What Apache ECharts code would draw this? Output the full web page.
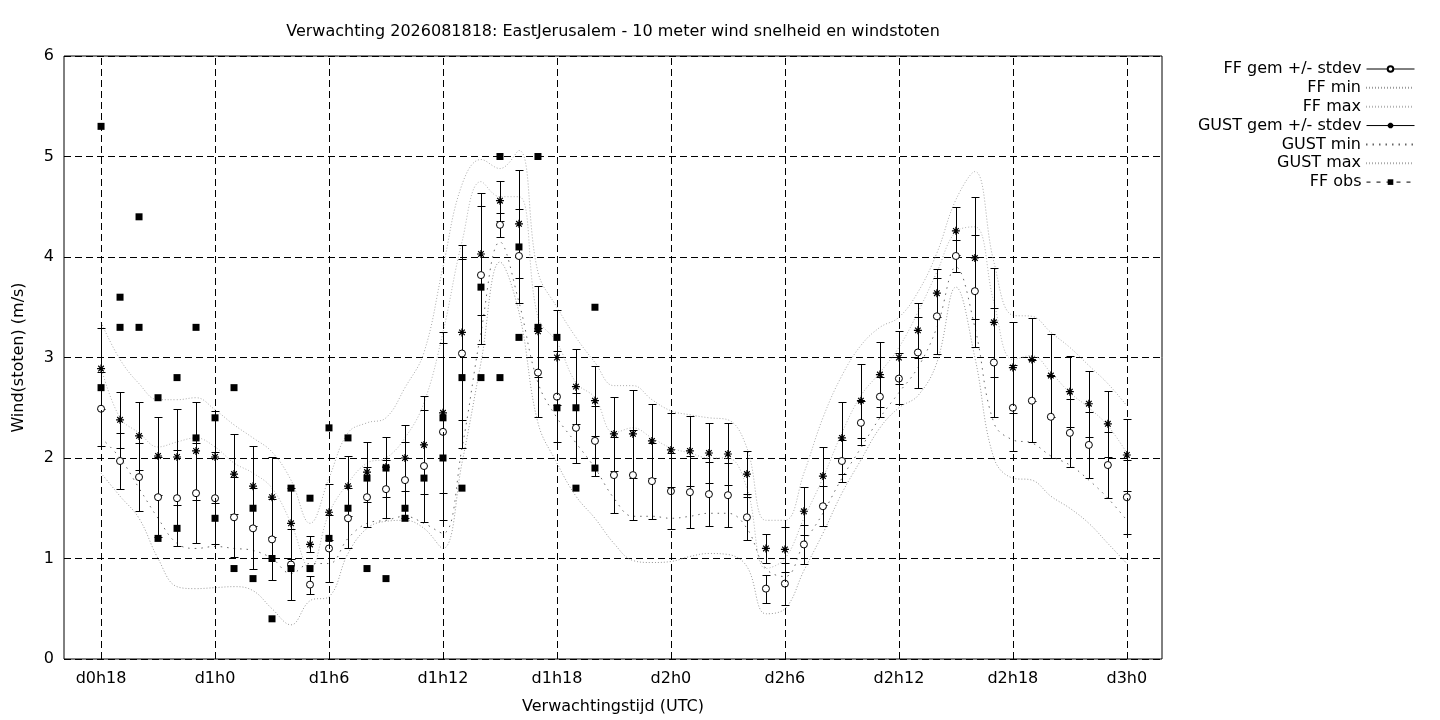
<!DOCTYPE html>
<html>
<head>
<meta charset="utf-8">
<title>Verwachting EastJerusalem wind</title>
<script src="https://cdn.jsdelivr.net/npm/echarts@6/dist/echarts.min.js"></script>
<style>
html, body { margin: 0; padding: 0; background: #fff; }
#chart { width: 1440px; height: 720px; }
</style>
</head>
<body>
<div id="chart"></div>
<script>
// forecast hour counted from d0h0
const hours = [18,19,20,21,22,23,24,25,26,27,28,29,30,31,32,33,34,35,36,37,38,39,40,41,42,43,44,45,
  46,47,48,49,50,51,52,53,54,55,56,57,58,59,60,61,62,63,64,65,66,67,68,69,70,71,72];
const tickHours = [18,24,30,36,42,48,54,60,66,72];

const ffMean = [2.49,1.97,1.81,1.61,1.60,1.65,1.60,1.41,1.30,1.19,
  0.94,0.74,1.10,1.40,1.61,1.69,1.78,1.92,2.26,3.04,
  3.82,4.32,4.01,2.85,2.61,2.30,2.17,1.83,1.83,1.77,
  1.67,1.66,1.64,1.63,1.41,0.70,0.75,1.14,1.52,1.97,
  2.35,2.61,2.79,3.05,3.41,4.01,3.66,2.95,2.50,2.57,
  2.41,2.25,2.13,1.93,1.61];
const ffSd = [0.37,0.28,0.34,0.40,0.48,0.50,0.46,0.40,0.40,0.40,
  0.35,0.09,0.33,0.30,0.30,0.29,0.38,0.56,0.88,0.94,
  0.69,0.12,0.47,0.44,0.45,0.35,0.35,0.38,0.45,0.38,
  0.38,0.36,0.32,0.32,0.23,0.14,0.21,0.19,0.20,0.21,
  0.22,0.20,0.25,0.35,0.38,0.16,0.56,0.54,0.43,0.41,
  0.41,0.34,0.33,0.33,0.37];
const ffMin = [1.85,1.62,1.40,1.00,0.72,0.70,0.71,0.72,0.68,0.50,
  0.34,0.58,0.62,1.05,1.30,1.37,1.38,1.30,1.10,1.95,
  2.95,3.95,3.45,2.35,1.95,1.62,1.40,1.15,0.98,0.96,
  0.97,1.02,1.05,1.04,0.92,0.45,0.50,0.88,1.25,1.65,
  1.98,2.30,2.50,2.62,2.95,3.70,3.00,2.00,1.80,1.78,
  1.62,1.50,1.35,1.15,0.95];
const ffMax = [2.90,2.40,2.25,2.11,2.16,2.20,2.11,1.95,1.85,1.70,
  1.35,0.90,1.45,1.75,1.95,2.00,2.20,2.55,3.25,4.15,
  4.75,4.60,4.60,3.40,3.15,2.75,2.60,2.25,2.30,2.20,
  2.10,2.05,2.00,2.00,1.70,0.90,1.00,1.40,1.80,2.25,
  2.62,2.85,3.10,3.45,3.85,4.25,4.30,3.55,2.98,3.02,
  2.85,2.65,2.50,2.32,2.05];

const gustMean = [2.89,2.38,2.22,2.02,2.01,2.07,2.01,1.84,1.72,1.61,
  1.35,1.14,1.46,1.72,1.86,1.91,2.00,2.13,2.45,3.25,
  4.03,4.56,4.33,3.26,3.00,2.71,2.57,2.24,2.24,2.17,
  2.08,2.07,2.05,2.04,1.84,1.10,1.09,1.47,1.82,2.20,
  2.57,2.83,3.00,3.27,3.64,4.26,3.99,3.35,2.90,2.98,
  2.82,2.66,2.54,2.34,2.03];
const gustSd = [0.40,0.28,0.34,0.39,0.48,0.49,0.46,0.40,0.40,0.40,
  0.35,0.08,0.28,0.30,0.30,0.30,0.33,0.49,0.80,0.87,
  0.61,0.20,0.54,0.45,0.47,0.37,0.35,0.37,0.44,0.37,
  0.37,0.35,0.30,0.31,0.23,0.14,0.22,0.24,0.29,0.36,
  0.37,0.32,0.26,0.27,0.24,0.24,0.61,0.54,0.45,0.41,
  0.41,0.35,0.33,0.33,0.36];
const gustMin = [2.20,2.00,1.70,1.40,1.15,1.10,1.12,1.10,1.08,1.00,
  0.85,0.95,0.95,1.20,1.35,1.38,1.42,1.35,1.25,2.10,
  3.25,4.15,3.55,2.75,2.40,2.15,1.90,1.60,1.42,1.42,
  1.40,1.42,1.45,1.45,1.30,0.90,0.82,1.15,1.45,1.80,
  2.10,2.40,2.65,2.90,3.30,3.90,3.30,2.35,2.18,2.15,
  2.02,1.93,1.78,1.60,1.38];
const gustMax = [3.35,2.98,2.74,2.58,2.58,2.60,2.48,2.33,2.20,2.06,
  1.78,1.35,1.80,2.25,2.35,2.40,2.70,3.05,3.90,4.72,
  4.97,4.88,5.06,3.85,3.50,3.20,2.95,2.72,2.72,2.58,
  2.47,2.43,2.40,2.38,2.10,1.38,1.38,1.85,2.40,2.82,
  3.12,3.30,3.40,3.65,4.04,4.57,4.85,3.95,3.42,3.41,
  3.25,3.10,2.92,2.74,2.52];

// observations: some hours have two reports
const obsHours = [18,18,19,19,20,20,21,21,22,22,23,23,24,24,25,25,26,26,27,27,28,28,29,29,30,30,
  31,31,32,32,33,33,34,34,35,36,36,37,37,38,38,39,39,40,40,41,41,42,42,43,43,44,44];
const obsValues = [5.3,2.7,3.6,3.3,4.4,3.3,2.6,1.2,2.8,1.3,3.3,2.2,2.4,1.4,2.7,0.9,1.5,0.8,1.0,0.4,
  1.7,0.9,1.6,0.9,2.3,1.2,2.2,1.5,1.8,0.9,1.9,0.8,1.5,1.4,1.8,2.4,2.0,2.8,1.7,3.7,2.8,5.0,2.8,
  4.1,3.2,5.0,3.3,3.2,2.5,2.5,1.7,3.5,1.9];

const FONT = 'DejaVu Sans';
const FS = 16;
const STAR = 'path://M0,-10L0,10M-10,0L10,0M-7,-7L7,7M-7,7L7,-7';
const DASH = [7, 4];

function pairs(vals) {
  return hours.map((h, i) => [h, vals[i]]);
}
function bars(mean, sd) {
  return hours.map((h, i) => [h, mean[i] - sd[i], mean[i] + sd[i]]);
}
function hourLabel(v) {
  return 'd' + Math.floor(v / 24) + 'h' + (v % 24);
}

function renderBar(params, api) {
  const x = api.value(0);
  const top = api.coord([x, api.value(2)]);
  const bot = api.coord([x, api.value(1)]);
  const cx = Math.round(top[0]) + 0.5;
  const y1 = Math.round(top[1]) + 0.5;
  const y2 = Math.round(bot[1]) + 0.5;
  const w = 4;
  const style = { stroke: '#000', lineWidth: 1 };
  return {
    type: 'group',
    children: [
      { type: 'line', shape: { x1: cx, y1: y1, x2: cx, y2: y2 }, style: style },
      { type: 'line', shape: { x1: cx - w, y1: y1, x2: cx + w, y2: y1 }, style: style },
      { type: 'line', shape: { x1: cx - w, y1: y2, x2: cx + w, y2: y2 }, style: style }
    ]
  };
}

function dotted(name, vals, color, type) {
  return {
    name: name, type: 'line', data: pairs(vals), smooth: 0.4,
    symbol: 'none', showSymbol: false, silent: true, z: 2,
    itemStyle: { color: color },
    lineStyle: { color: color, width: 1, type: type }
  };
}

const solidSample = { opacity: 1, color: '#000', width: 1, type: 'solid' };
const noMark = { opacity: 0 };
const legendRows = [
  { name: 'FF gem +/- stdev', lineStyle: solidSample },
  { name: 'FF min', itemStyle: noMark },
  { name: 'FF max', itemStyle: noMark },
  { name: 'GUST gem +/- stdev', lineStyle: solidSample },
  { name: 'GUST min', itemStyle: noMark },
  { name: 'GUST max', itemStyle: noMark },
  { name: 'FF obs', lineStyle: { opacity: 1, color: '#000', width: 1, type: [4, 6] } }
];

const chart = echarts.init(document.getElementById('chart'));
chart.setOption({
  animation: false,
  backgroundColor: '#fff',
  textStyle: { fontFamily: FONT, color: '#000' },
  title: {
    text: 'Verwachting 2026081818: EastJerusalem - 10 meter wind snelheid en windstoten',
    left: 608, top: 19, textAlign: 'center',
    textStyle: { fontFamily: FONT, fontSize: FS, fontWeight: 'normal', color: '#000' }
  },
  legend: legendRows.map((row, i) => ({
    right: 20, top: 56 + i * 18.85,
    align: 'right', itemWidth: 48, itemHeight: 7, selectedMode: false,
    data: [row],
    textStyle: { fontFamily: FONT, fontSize: FS, color: '#000' }
  })),
  grid: {
    left: 64, right: 278, top: 56, bottom: 61,
    show: true, borderColor: '#000', borderWidth: 1, backgroundColor: 'transparent'
  },
  xAxis: {
    type: 'value', min: 16.05, max: 73.85,
    name: 'Verwachtingstijd (UTC)', nameLocation: 'middle', nameGap: 40,
    nameTextStyle: { fontFamily: FONT, fontSize: FS, color: '#000' },
    axisLine: { show: false },
    axisTick: { show: true, inside: true, length: 6, customValues: tickHours, lineStyle: { color: '#000' } },
    axisLabel: { customValues: tickHours, formatter: hourLabel, margin: 12,
      fontFamily: FONT, fontSize: FS, color: '#000' },
    splitLine: { show: false }
  },
  yAxis: {
    type: 'value', min: 0, max: 6, interval: 1,
    name: 'Wind(stoten) (m/s)', nameLocation: 'middle', nameGap: 37, nameRotate: 90,
    nameTextStyle: { fontFamily: FONT, fontSize: FS, color: '#000' },
    axisLine: { show: false },
    axisTick: { show: true, inside: true, length: 6, lineStyle: { color: '#000' } },
    axisLabel: { margin: 10, fontFamily: FONT, fontSize: FS, color: '#000' },
    splitLine: { show: true, lineStyle: { color: '#000', width: 1, type: DASH } }
  },
  series: [
    {
      name: 'vgrid', type: 'line', data: [], silent: true, z: 1,
      markLine: {
        silent: true, symbol: ['none', 'none'], label: { show: false },
        lineStyle: { color: '#000', width: 1, type: DASH },
        data: tickHours.map(h => ({ xAxis: h }))
      }
    },
    dotted('FF min', ffMin, '#9a9a9a', [1, 2]),
    dotted('FF max', ffMax, '#b4b4b4', [1, 2]),
    dotted('GUST min', gustMin, '#666', [1.5, 5]),
    dotted('GUST max', gustMax, '#aaaaaa', [1, 2]),
    {
      name: 'ffBars', type: 'custom', renderItem: renderBar, data: bars(ffMean, ffSd),
      encode: { x: 0, y: [1, 2] }, silent: true, z: 3
    },
    {
      name: 'gustBars', type: 'custom', renderItem: renderBar, data: bars(gustMean, gustSd),
      encode: { x: 0, y: [1, 2] }, silent: true, z: 3
    },
    {
      name: 'FF gem +/- stdev', type: 'line', data: pairs(ffMean), z: 4,
      symbol: 'circle', symbolSize: 7, showSymbol: true,
      itemStyle: { color: '#fff', borderColor: '#000', borderWidth: 1 },
      lineStyle: { opacity: 0 }
    },
    {
      name: 'GUST gem +/- stdev', type: 'line', data: pairs(gustMean), z: 4,
      symbol: STAR, symbolSize: 8, showSymbol: true,
      itemStyle: { color: '#000', borderColor: '#000', borderWidth: 1.2 },
      lineStyle: { opacity: 0 }
    },
    {
      name: 'FF obs', type: 'line', z: 5,
      data: obsHours.map((h, i) => [h, obsValues[i]]),
      symbol: 'rect', symbolSize: 7, showSymbol: true,
      itemStyle: { color: '#000' },
      lineStyle: { opacity: 0 }
    }
  ]
});
</script>
</body>
</html>
